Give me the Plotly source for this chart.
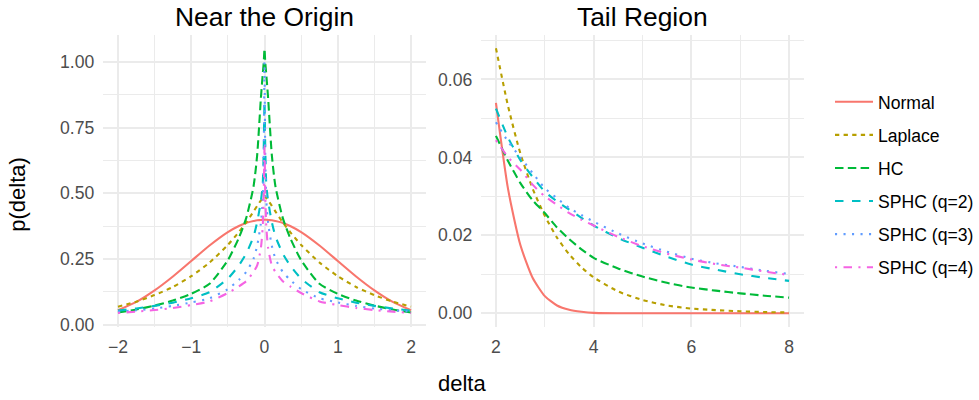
import plotly.graph_objects as go

# ---------------- data ----------------
series_names = ["Normal", "Laplace", "HC", "SPHC (q=2)", "SPHC (q=3)", "SPHC (q=4)"]

# Near the origin panel
x_origin = [-2, -1.75, -1.5, -1.25, -1, -0.75, -0.5, -0.35, -0.25, -0.15, -0.1, -0.05, -0.025, -0.01,
            0, 0.01, 0.025, 0.05, 0.1, 0.15, 0.25, 0.35, 0.5, 0.75, 1, 1.25, 1.5, 1.75, 2]
normal_origin = [0.054, 0.086, 0.130, 0.183, 0.242, 0.301, 0.352, 0.375, 0.387, 0.394, 0.397, 0.398, 0.399, 0.399,
                 0.399, 0.399, 0.399, 0.398, 0.397, 0.394, 0.387, 0.375, 0.352, 0.301, 0.242, 0.183, 0.130, 0.086, 0.054]
laplace_origin = [0.068, 0.087, 0.112, 0.143, 0.184, 0.236, 0.303, 0.352, 0.389, 0.430, 0.452, 0.472, 0.481, 0.487,
                  0.490, 0.487, 0.481, 0.472, 0.452, 0.430, 0.389, 0.352, 0.303, 0.236, 0.184, 0.143, 0.112, 0.087, 0.068]
hc_origin = [0.046, 0.057, 0.072, 0.091, 0.117, 0.155, 0.245, 0.330, 0.405, 0.525, 0.645, 0.860, 0.950, 1.000,
             1.050, 1.000, 0.950, 0.860, 0.645, 0.525, 0.405, 0.330, 0.245, 0.155, 0.117, 0.091, 0.072, 0.057, 0.046]
sphc2_origin = [0.053, 0.061, 0.071, 0.083, 0.100, 0.123, 0.175, 0.225, 0.270, 0.335, 0.390, 0.470, 0.530, 0.680,
                0.850, 0.680, 0.530, 0.470, 0.390, 0.335, 0.270, 0.225, 0.175, 0.123, 0.100, 0.083, 0.071, 0.061, 0.053]
sphc3_origin = [0.049, 0.054, 0.061, 0.071, 0.084, 0.100, 0.135, 0.170, 0.200, 0.250, 0.300, 0.385, 0.470, 0.650,
                1.000, 0.650, 0.470, 0.385, 0.300, 0.250, 0.200, 0.170, 0.135, 0.100, 0.084, 0.071, 0.061, 0.054, 0.049]
sphc4_origin = [0.044, 0.049, 0.055, 0.063, 0.074, 0.088, 0.120, 0.145, 0.165, 0.200, 0.225, 0.290, 0.370, 0.500,
                0.680, 0.500, 0.370, 0.290, 0.225, 0.200, 0.165, 0.145, 0.120, 0.088, 0.074, 0.063, 0.055, 0.049, 0.044]

# Tail region panel
x_tail = [2, 2.25, 2.5, 2.75, 3, 3.25, 3.5, 3.75, 4, 4.5, 5, 5.5, 6, 6.5, 7, 7.5, 8]
normal_tail = [0.0540, 0.0317, 0.0175, 0.0091, 0.0044, 0.0020, 0.0009, 0.0004, 0.0001, 0.0, 0.0, 0.0, 0.0, 0.0, 0.0, 0.0, 0.0]
laplace_tail = [0.0680, 0.0530, 0.0410, 0.0320, 0.0250, 0.0194, 0.0151, 0.0118, 0.0092, 0.0056, 0.0034, 0.0020,
                0.0012, 0.0008, 0.0005, 0.0003, 0.0002]
hc_tail = [0.0455, 0.0390, 0.0334, 0.0290, 0.0257, 0.0220, 0.0190, 0.0164, 0.0142, 0.0115, 0.0094, 0.0078,
           0.0066, 0.0058, 0.0051, 0.0045, 0.0040]
sphc2_tail = [0.0525, 0.0450, 0.0393, 0.0350, 0.0312, 0.0287, 0.0266, 0.0245, 0.0225, 0.0193, 0.0168, 0.0145,
              0.0125, 0.0112, 0.0100, 0.0091, 0.0083]
sphc3_tail = [0.0490, 0.0440, 0.0400, 0.0360, 0.0321, 0.0295, 0.0270, 0.0252, 0.0235, 0.0205, 0.0179, 0.0158,
              0.0140, 0.0128, 0.0119, 0.0109, 0.0101]
sphc4_tail = [0.0444, 0.0400, 0.0368, 0.0330, 0.0300, 0.0278, 0.0257, 0.0240, 0.0225, 0.0196, 0.0172, 0.0153,
              0.0138, 0.0126, 0.0117, 0.0107, 0.0098]

origin_values = [normal_origin, laplace_origin, hc_origin, sphc2_origin, sphc3_origin, sphc4_origin]
tail_values = [normal_tail, laplace_tail, hc_tail, sphc2_tail, sphc3_tail, sphc4_tail]

left_x_ticks = [-2, -1, 0, 1, 2]
left_y_ticks = [0, 0.25, 0.5, 0.75, 1.0]
right_x_ticks = [2, 4, 6, 8]
right_y_ticks = [0, 0.02, 0.04, 0.06]

# ---------------- styling ----------------
colors = ["#F8766D", "#B79F00", "#00BA38", "#00BFC4", "#619CFF", "#F564E3"]
dashes = ["solid", "4.3px,4.3px", "8.5px,4.3px", "8.5px,8.5px", "2.1px,6.4px", "2.1px,6.4px,8.5px,6.4px"]
LW = 2.1
FONT = "Liberation Sans, Arial, sans-serif"
GRID = "#EBEBEB"
W, H = 979, 400
VS = 0.9815  # observed vertical scale of the photographed page


def px_x(p):
    return p / W


def px_y(p):
    return 1 - (p / VS) / H


fig = go.Figure()
for i, name in enumerate(series_names):
    fig.add_trace(go.Scatter(
        x=x_origin, y=origin_values[i], mode="lines", name=name,
        legendgroup=name, showlegend=True,
        line=dict(color=colors[i], dash=dashes[i], width=LW, shape="spline", smoothing=0.6),
        xaxis="x", yaxis="y"))
for i, name in enumerate(series_names):
    fig.add_trace(go.Scatter(
        x=x_tail, y=tail_values[i], mode="lines", name=name,
        legendgroup=name, showlegend=False,
        line=dict(color=colors[i], dash=dashes[i], width=LW, shape="spline", smoothing=0.6),
        xaxis="x2", yaxis="y2"))

tickfont = dict(family=FONT, size=17.6, color="#4D4D4D")
common = dict(showline=False, zeroline=False, ticks="", showgrid=True, gridcolor=GRID, gridwidth=2.1,
              tickfont=tickfont, layer="below traces")

panel_y = [px_y(327), px_y(35)]

fig.update_layout(
    width=W, height=H,
    margin=dict(l=0, r=0, t=0, b=0),
    paper_bgcolor="white", plot_bgcolor="white",
    font=dict(family=FONT),
    xaxis=dict(domain=[px_x(103.3), px_x(425.7)], range=[-2.2, 2.2], tickvals=left_x_ticks,
               minor=dict(tickvals=[-1.5, -0.5, 0.5, 1.5], showgrid=True, gridcolor=GRID, gridwidth=1.05),
               anchor="y", ticklabelstandoff=8, **common),
    yaxis=dict(domain=panel_y, range=[-0.0076, 1.1027], tickvals=left_y_ticks, tickformat=".2f",
               minor=dict(tickvals=[0.125, 0.375, 0.625, 0.875], showgrid=True, gridcolor=GRID, gridwidth=1.05),
               anchor="x", ticklabelstandoff=8, **common),
    xaxis2=dict(domain=[px_x(481.3), px_x(803.7)], range=[1.7, 8.3], tickvals=right_x_ticks,
                minor=dict(tickvals=[3, 5, 7], showgrid=True, gridcolor=GRID, gridwidth=1.05),
                anchor="y2", ticklabelstandoff=8, **common),
    yaxis2=dict(domain=panel_y, range=[-0.0034, 0.0714], tickvals=right_y_ticks, tickformat=".2f",
                minor=dict(tickvals=[0.01, 0.03, 0.05, 0.07], showgrid=True, gridcolor=GRID, gridwidth=1.05),
                anchor="x2", ticklabelstandoff=8, **common),
    legend=dict(x=px_x(830), y=px_y(84), xanchor="left", yanchor="top",
                font=dict(family=FONT, size=17.6, color="#000000"),
                tracegroupgap=7.2, itemwidth=38, borderwidth=0, bgcolor="rgba(0,0,0,0)"),
    showlegend=True,
)

annotations = [
    dict(text="Near the Origin", x=px_x(264.5), y=px_y(17), xref="paper", yref="paper",
         showarrow=False, font=dict(family=FONT, size=26.4, color="#000000"), xanchor="center", yanchor="middle"),
    dict(text="Tail Region", x=px_x(642.5), y=px_y(17), xref="paper", yref="paper",
         showarrow=False, font=dict(family=FONT, size=26.4, color="#000000"), xanchor="center", yanchor="middle"),
    dict(text="p(delta)", x=px_x(18), y=px_y(195), xref="paper", yref="paper", textangle=-90,
         showarrow=False, font=dict(family=FONT, size=22, color="#000000"), xanchor="center", yanchor="middle"),
    dict(text="delta", x=px_x(462), y=0, xref="paper", yref="paper", yshift=-5, borderpad=0,
         showarrow=False, font=dict(family=FONT, size=22, color="#000000"), xanchor="center", yanchor="bottom"),
]
fig.update_layout(annotations=annotations)

fig.write_html("out.html")
